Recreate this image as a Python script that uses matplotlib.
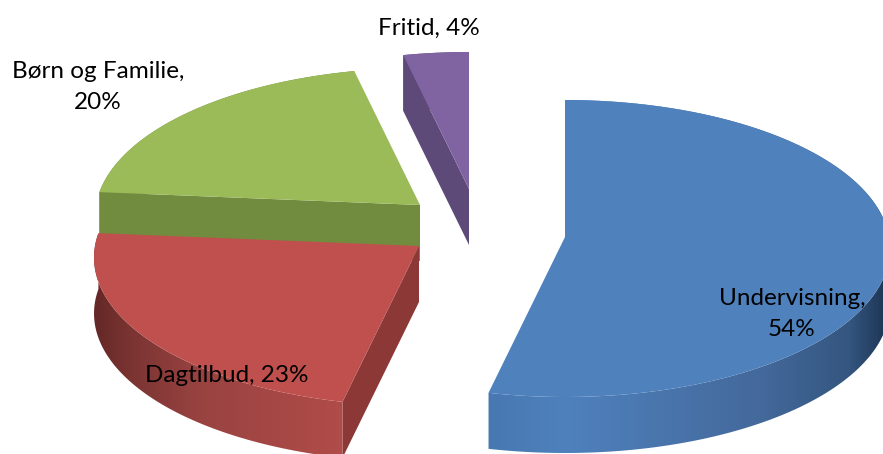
import matplotlib

matplotlib.use("Agg")
import matplotlib.pyplot as plt
import numpy as np
from matplotlib.colors import LinearSegmentedColormap
from matplotlib.patches import Polygon

plt.rcParams["font.family"] = ["Lato", "DejaVu Sans"]

# clockwise from 12 o'clock, shares
names = ["Undervisning", "Dagtilbud", "Børn og Familie", "Fritid"]
shares = [53.5, 22.9, 20.1, 3.5]
labels = ["Undervisning,\n54%", "Dagtilbud, 23%", "Børn og Familie,\n20%", "Fritid, 4%"]

apex_x = [565, 419, 420, 469]
apex_y = [237, 246, 205, 189]
top_colors = ["#4F81BD", "#C0504D", "#9BBB59", "#8064A2"]
cut_colors = ["#3F6797", "#8C3836", "#728C3F", "#5E4A78"]
wall_stops = [
    [(489, "#4878B0"), (565, "#4F81BD"), (760, "#44699B"), (850, "#345680"), (883, "#20395A")],
    [(95, "#652826"), (130, "#7A3432"), (200, "#994341"), (343, "#B04C49")],
    [(95, "#728C3F"), (420, "#728C3F")],
    [(400, "#5E4A78"), (470, "#5E4A78")],
]
label_x = [792, 227, 98, 429]
label_y = [314, 375, 87, 28]

RX, RY, PERSP = 324, 147.6, 0.0775
DEPTH = 56


def rim(theta, cx, cy):
    """Point on the slice's rim with a little perspective towards the viewer."""
    s = 1 / (1 + PERSP * np.cos(theta))
    return cx + RX * np.sin(theta) * s, cy - RY * np.cos(theta) * s


fig = plt.figure(figsize=(8.83, 4.54), dpi=100)
ax = fig.add_axes([0, 0, 1, 1])

edges = np.radians(np.concatenate([[0], np.cumsum(shares)]) / np.sum(shares) * 360)

# far slices first, so the nearer ones sit on top of them
for layer, i in enumerate([3, 2, 1, 0]):
    cx, cy = apex_x[i], apex_y[i]
    thetas = np.linspace(edges[i], edges[i + 1], 240)
    xs, ys = rim(thetas, cx, cy)

    # flat wall along the slice's first cut
    ex, ey = rim(edges[i], cx, cy)
    ax.add_patch(Polygon([(cx, cy), (ex, ey), (ex, ey + DEPTH), (cx, cy + DEPTH)],
                         closed=True, facecolor=cut_colors[i], edgecolor="none", zorder=layer * 3 + 1))

    # outer wall: a horizontal gradient clipped to the rim band
    stops = wall_stops[i]
    lo, hi = stops[0][0], stops[-1][0]
    cmap = LinearSegmentedColormap.from_list(
        f"wall{i}", [((x - lo) / (hi - lo), c) for x, c in stops])
    band = Polygon(np.column_stack([np.r_[xs, xs[::-1]], np.r_[ys, ys[::-1] + DEPTH]]),
                   closed=True, facecolor="none", edgecolor="none", transform=ax.transData)
    ax.add_patch(band)
    # padded past both ends so the rim never runs out of gradient
    grad_x = np.linspace(lo - 30, hi + 30, 512)
    img = ax.imshow(np.clip((grad_x - lo) / (hi - lo), 0, 1)[None, :], cmap=cmap, aspect="auto",
                    extent=(lo - 30, hi + 30, 0, 454), zorder=layer * 3 + 2)
    img.set_clip_path(band)

    ax.add_patch(Polygon(np.column_stack([np.r_[cx, xs], np.r_[cy, ys]]), closed=True,
                         facecolor=top_colors[i], edgecolor="none", zorder=layer * 3 + 3))

for text, x, y in zip(labels, label_x, label_y):
    ax.text(x, y, text, ha="center", va="center", fontsize=17.5, color="black", linespacing=1.6, zorder=20)

ax.set_xlim(0, 883)
ax.set_ylim(454, 0)
ax.axis("off")

fig.savefig("out.png", dpi=100, facecolor="white")
